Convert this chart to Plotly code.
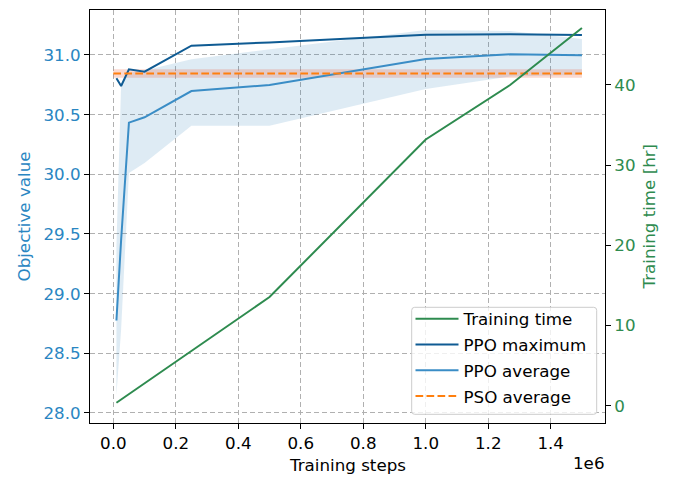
import plotly.graph_objects as go
from plotly.subplots import make_subplots

# Training steps at which PPO was evaluated
steps = [10000, 25000, 50000, 100000, 250000, 500000, 1000000, 1270000, 1500000]

# PPO objective value: best run, mean, and spread band
ppo_max = [30.805, 30.74, 30.88, 30.86, 31.078, 31.105, 31.17, 31.173, 31.167]
ppo_avg = [28.775, 29.45, 30.433, 30.478, 30.698, 30.749, 30.966, 31.006, 30.997]
ppo_upper = [29.40, 30.75, 30.85, 30.87, 30.965, 31.045, 31.21, 31.20, 31.134]
ppo_lower = [28.15, 28.70, 30.01, 30.095, 30.408, 30.408, 30.715, 30.82, 30.835]

# Wall-clock training time [hr]
time_steps = [10000, 500000, 1000000, 1270000, 1500000]
train_time = [0.37, 13.55, 33.2, 40.0, 47.1]

# PSO reference (constant across the step range)
pso_steps = [0, 1500000]
pso_avg = 30.845
pso_band = 0.035

# Tick labels
x_ticks = [0.0, 0.2, 0.4, 0.6, 0.8, 1.0, 1.2, 1.4]
y_ticks = [28.0, 28.5, 29.0, 29.5, 30.0, 30.5, 31.0]
y2_ticks = [0, 10, 20, 30, 40]

C_MAX = "#0f5b93"
C_AVG = "#3a8dc6"
C_AXIS = "#2a86c2"
C_GREEN = "#2e8b4f"
C_ORANGE = "#ff7f0e"
FONT = "DejaVu Sans"
FS = 16.7

fig = make_subplots(specs=[[{"secondary_y": True}]])

# training time (right axis)
fig.add_trace(go.Scatter(x=time_steps, y=train_time, mode="lines", name="Training time",
                         line=dict(color=C_GREEN, width=2), legendgroup="a"),
              secondary_y=True)

# PPO spread band
fig.add_trace(go.Scatter(x=steps, y=ppo_upper, mode="lines", line=dict(width=0, color="rgba(0,0,0,0)"),
                         showlegend=False, hoverinfo="skip", legendgroup="z1"), secondary_y=False)
fig.add_trace(go.Scatter(x=steps, y=ppo_lower, mode="lines", line=dict(width=0, color="rgba(0,0,0,0)"),
                         fill="tonexty", fillcolor="rgba(31,119,180,0.15)",
                         showlegend=False, hoverinfo="skip", legendgroup="z1"), secondary_y=False)

# PSO band
fig.add_trace(go.Scatter(x=pso_steps, y=[pso_avg + pso_band] * 2, mode="lines",
                         line=dict(width=0, color="rgba(0,0,0,0)"), showlegend=False, hoverinfo="skip",
                         legendgroup="z2"),
              secondary_y=False)
fig.add_trace(go.Scatter(x=pso_steps, y=[pso_avg - pso_band] * 2, mode="lines",
                         line=dict(width=0, color="rgba(0,0,0,0)"), fill="tonexty",
                         fillcolor="rgba(235,105,70,0.25)", showlegend=False, hoverinfo="skip",
                         legendgroup="z2"),
              secondary_y=False)

fig.add_trace(go.Scatter(x=steps, y=ppo_max, mode="lines", name="PPO maximum",
                         line=dict(color=C_MAX, width=2), legendgroup="b"), secondary_y=False)
fig.add_trace(go.Scatter(x=steps, y=ppo_avg, mode="lines", name="PPO average",
                         line=dict(color=C_AVG, width=2), legendgroup="c"), secondary_y=False)
fig.add_trace(go.Scatter(x=pso_steps, y=[pso_avg] * 2, mode="lines", name="PSO average",
                         line=dict(color=C_ORANGE, width=2, dash="7.7px,3.3px"), legendgroup="d"),
              secondary_y=False)

L, R, T, B = 90, 68, 10, 54
W, H = 673, 477
pw, ph = W - L - R, H - T - B

def px(xp):
    return (xp - L) / pw

def py(yp):
    return (H - B - yp) / ph

# legend frame: rounded box behind the legend entries
x0, x1, y0, y1, r = 411.7, 596.7, 307.3, 414.3, 3.0
frame = (
    f"M {px(x0 + r)},{py(y0)} L {px(x1 - r)},{py(y0)} Q {px(x1)},{py(y0)} {px(x1)},{py(y0 + r)} "
    f"L {px(x1)},{py(y1 - r)} Q {px(x1)},{py(y1)} {px(x1 - r)},{py(y1)} "
    f"L {px(x0 + r)},{py(y1)} Q {px(x0)},{py(y1)} {px(x0)},{py(y1 - r)} "
    f"L {px(x0)},{py(y0 + r)} Q {px(x0)},{py(y0)} {px(x0 + r)},{py(y0)} Z"
)
fig.add_shape(type="path", path=frame, xref="paper", yref="paper", layer="above",
              fillcolor="rgba(255,255,255,0.8)", line=dict(color="#cccccc", width=1))

fig.update_layout(
    width=W, height=H,
    margin=dict(l=L, r=R, t=T, b=B),
    paper_bgcolor="white", plot_bgcolor="white",
    font=dict(family=FONT, size=FS, color="black"),
    showlegend=True,
    legend=dict(x=px(410.5), y=py(413.5), xanchor="left", yanchor="bottom",
                bgcolor="rgba(0,0,0,0)", borderwidth=0,
                font=dict(family=FONT, size=FS, color="black"), tracegroupgap=1,
                traceorder="grouped", itemwidth=43),
)

fig.update_xaxes(
    domain=[0, 1],
    range=[-0.0746e6, 1.5738e6],
    tickvals=[v * 1e6 for v in x_ticks], ticktext=[f"{v:.1f}" for v in x_ticks],
    ticks="outside", ticklen=5, tickwidth=1, tickcolor="black",
    showline=True, linecolor="black", linewidth=1, mirror=True,
    showgrid=True, gridcolor="#b0b0b0", gridwidth=1, griddash="5px,3px",
    zeroline=False, tickfont=dict(family=FONT, size=FS, color="black"),
)
fig.update_yaxes(
    range=[27.916, 31.377], tickvals=y_ticks, ticktext=[f"{v:.1f}" for v in y_ticks],
    ticks="outside", ticklen=5, tickwidth=1, tickcolor="black",
    showline=True, linecolor="black", linewidth=1,
    showgrid=True, gridcolor="#b0b0b0", gridwidth=1, griddash="5px,3px",
    zeroline=False, tickfont=dict(family=FONT, size=FS, color=C_AXIS),
    secondary_y=False,
)
fig.update_yaxes(
    range=[-2.16, 49.35], tickvals=y2_ticks, ticktext=[str(v) for v in y2_ticks],
    ticks="outside", ticklen=5, tickwidth=1, tickcolor="black",
    showline=True, linecolor="black", linewidth=1,
    showgrid=False, zeroline=False, tickfont=dict(family=FONT, size=FS, color=C_GREEN),
    secondary_y=True,
)

ann = [
    dict(text="Objective value", x=px(23), y=py(216.5), textangle=-90, font=dict(color=C_AXIS)),
    dict(text="Training time [hr]", x=px(648), y=py(216.5), textangle=-90, font=dict(color=C_GREEN)),
    dict(text="Training steps", x=px(347), y=py(465), font=dict(color="black")),
    dict(text="1e6", x=px(589), y=py(463.3), font=dict(color="black")),
]
for a in ann:
    fig.add_annotation(xref="paper", yref="paper", showarrow=False,
                       xanchor="center", yanchor="middle",
                       font=dict(family=FONT, size=FS, color=a["font"]["color"]),
                       text=a["text"], x=a["x"], y=a["y"], textangle=a.get("textangle", 0))

fig.write_html("out.html")
